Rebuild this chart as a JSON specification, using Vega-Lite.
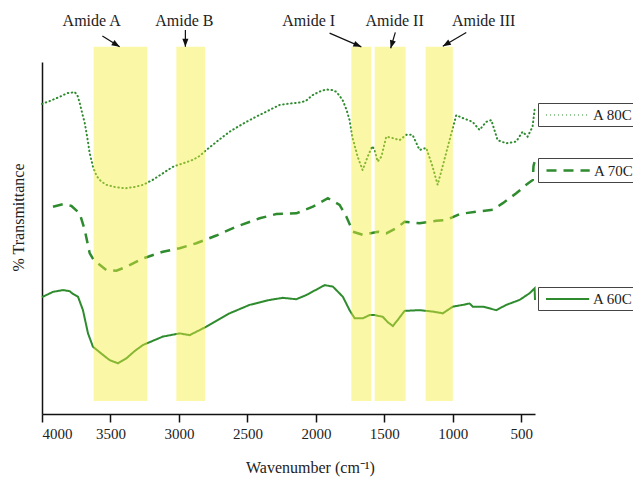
{
  "$schema": "https://vega.github.io/schema/vega-lite/v6.json",
  "width": 493,
  "height": 352,
  "autosize": {"type": "none"},
  "padding": {"left": 42, "top": 62, "right": 98, "bottom": 63},
  "background": "white",
  "config": {
    "view": {"stroke": null},
    "font": "Liberation Serif",
    "text": {"font": "Liberation Serif"},
    "legend": {
      "orient": "none", "title": null, "strokeColor": "#444", "padding": 3,
      "symbolType": "M-0.5,0H4.9", "symbolSize": 256, "symbolStrokeColor": "#2e8b2e",
      "symbolFillColor": "transparent",
      "labelFont": "Liberation Serif", "labelFontSize": 15, "labelColor": "#222", "labelOffset": 34
    }
  },
  "datasets": {
    "s80": [
      {"wn": 4000, "t": 88.1}, {"wn": 3944, "t": 88.9}, {"wn": 3871, "t": 90.1}, {"wn": 3845, "t": 90.6},
      {"wn": 3812, "t": 91.2}, {"wn": 3783, "t": 91.3}, {"wn": 3761, "t": 91.5}, {"wn": 3739, "t": 90.3},
      {"wn": 3725, "t": 88.4}, {"wn": 3703, "t": 84.9}, {"wn": 3688, "t": 82.7}, {"wn": 3666, "t": 77.8},
      {"wn": 3652, "t": 74.1}, {"wn": 3628, "t": 70.3}, {"wn": 3601, "t": 67.6}, {"wn": 3571, "t": 66.2},
      {"wn": 3530, "t": 65.1}, {"wn": 3469, "t": 64.5}, {"wn": 3396, "t": 64.1}, {"wn": 3323, "t": 64.5},
      {"wn": 3263, "t": 65.1}, {"wn": 3192, "t": 66.5}, {"wn": 3117, "t": 68.4}, {"wn": 3046, "t": 70.2},
      {"wn": 2971, "t": 71.2}, {"wn": 2898, "t": 72.2}, {"wn": 2849, "t": 73.3}, {"wn": 2800, "t": 75.0},
      {"wn": 2717, "t": 77.6}, {"wn": 2630, "t": 80.2}, {"wn": 2535, "t": 82.4}, {"wn": 2435, "t": 84.5},
      {"wn": 2352, "t": 86.1}, {"wn": 2265, "t": 87.8}, {"wn": 2192, "t": 88.2}, {"wn": 2119, "t": 88.5},
      {"wn": 2075, "t": 88.9}, {"wn": 2024, "t": 90.6}, {"wn": 1973, "t": 91.6}, {"wn": 1924, "t": 92.2},
      {"wn": 1878, "t": 92.0}, {"wn": 1849, "t": 91.5}, {"wn": 1805, "t": 89.2}, {"wn": 1776, "t": 86.4},
      {"wn": 1754, "t": 83.5}, {"wn": 1732, "t": 78.4}, {"wn": 1695, "t": 73.1}, {"wn": 1659, "t": 69.3},
      {"wn": 1622, "t": 73.1}, {"wn": 1588, "t": 76.1}, {"wn": 1571, "t": 75.0}, {"wn": 1549, "t": 71.7},
      {"wn": 1522, "t": 73.1}, {"wn": 1486, "t": 78.8}, {"wn": 1440, "t": 78.4}, {"wn": 1389, "t": 77.8},
      {"wn": 1340, "t": 79.3}, {"wn": 1294, "t": 79.3}, {"wn": 1243, "t": 75.0}, {"wn": 1194, "t": 75.6},
      {"wn": 1148, "t": 70.3}, {"wn": 1111, "t": 65.1}, {"wn": 1075, "t": 70.3}, {"wn": 1024, "t": 77.8},
      {"wn": 975, "t": 84.9}, {"wn": 929, "t": 84.1}, {"wn": 856, "t": 83.0}, {"wn": 805, "t": 80.7},
      {"wn": 756, "t": 83.0}, {"wn": 719, "t": 83.5}, {"wn": 673, "t": 77.8}, {"wn": 610, "t": 76.9},
      {"wn": 537, "t": 77.4}, {"wn": 491, "t": 80.2}, {"wn": 454, "t": 78.8}, {"wn": 418, "t": 81.6},
      {"wn": 403, "t": 86.4}
    ],
    "s70": [
      {"wn": 3920, "t": 58.9}, {"wn": 3847, "t": 59.6}, {"wn": 3785, "t": 59.1}, {"wn": 3725, "t": 57.0},
      {"wn": 3688, "t": 52.3}, {"wn": 3652, "t": 45.7}, {"wn": 3623, "t": 43.8}, {"wn": 3591, "t": 42.8},
      {"wn": 3530, "t": 40.9}, {"wn": 3457, "t": 40.7}, {"wn": 3384, "t": 41.8}, {"wn": 3263, "t": 44.2},
      {"wn": 3117, "t": 46.1}, {"wn": 2995, "t": 47.1}, {"wn": 2873, "t": 48.5}, {"wn": 2727, "t": 50.7},
      {"wn": 2581, "t": 53.2}, {"wn": 2411, "t": 55.6}, {"wn": 2289, "t": 56.8}, {"wn": 2143, "t": 57.0},
      {"wn": 2022, "t": 58.9}, {"wn": 1912, "t": 61.3}, {"wn": 1827, "t": 59.4}, {"wn": 1778, "t": 56.1},
      {"wn": 1730, "t": 51.8}, {"wn": 1657, "t": 50.9}, {"wn": 1547, "t": 51.8}, {"wn": 1486, "t": 51.3},
      {"wn": 1413, "t": 52.8}, {"wn": 1352, "t": 54.6}, {"wn": 1243, "t": 54.2}, {"wn": 1121, "t": 54.9},
      {"wn": 1048, "t": 55.1}, {"wn": 951, "t": 56.8}, {"wn": 829, "t": 57.5}, {"wn": 708, "t": 58.0},
      {"wn": 635, "t": 59.9}, {"wn": 537, "t": 62.7}, {"wn": 464, "t": 65.1}, {"wn": 416, "t": 66.5},
      {"wn": 411, "t": 70.5}, {"wn": 403, "t": 71.6}
    ],
    "s60": [
      {"wn": 4000, "t": 33.2}, {"wn": 3920, "t": 34.7}, {"wn": 3847, "t": 35.2}, {"wn": 3798, "t": 34.9},
      {"wn": 3774, "t": 34.1}, {"wn": 3737, "t": 33.3}, {"wn": 3701, "t": 29.5}, {"wn": 3664, "t": 22.9},
      {"wn": 3628, "t": 19.1}, {"wn": 3555, "t": 16.8}, {"wn": 3506, "t": 15.3}, {"wn": 3445, "t": 14.4},
      {"wn": 3384, "t": 15.8}, {"wn": 3323, "t": 17.9}, {"wn": 3263, "t": 19.6}, {"wn": 3117, "t": 22.0},
      {"wn": 2995, "t": 22.9}, {"wn": 2922, "t": 22.4}, {"wn": 2800, "t": 24.8}, {"wn": 2630, "t": 28.6},
      {"wn": 2484, "t": 31.0}, {"wn": 2338, "t": 32.4}, {"wn": 2241, "t": 33.0}, {"wn": 2143, "t": 32.6},
      {"wn": 2070, "t": 33.8}, {"wn": 1936, "t": 36.6}, {"wn": 1876, "t": 36.2}, {"wn": 1803, "t": 33.3},
      {"wn": 1754, "t": 29.5}, {"wn": 1717, "t": 27.2}, {"wn": 1657, "t": 27.2}, {"wn": 1608, "t": 28.1},
      {"wn": 1571, "t": 28.1}, {"wn": 1511, "t": 27.6}, {"wn": 1476, "t": 26.1}, {"wn": 1438, "t": 25.0},
      {"wn": 1403, "t": 26.7}, {"wn": 1352, "t": 29.3}, {"wn": 1243, "t": 29.5}, {"wn": 1146, "t": 29.1},
      {"wn": 1073, "t": 28.6}, {"wn": 1000, "t": 30.5}, {"wn": 927, "t": 31.0}, {"wn": 878, "t": 31.4},
      {"wn": 854, "t": 30.5}, {"wn": 781, "t": 30.5}, {"wn": 683, "t": 29.5}, {"wn": 610, "t": 31.0},
      {"wn": 513, "t": 32.4}, {"wn": 440, "t": 34.3}, {"wn": 403, "t": 35.7}, {"wn": 400, "t": 32.4}
    ],
    "bands": [
      {"name": "Amide A", "from": 3623, "to": 3231},
      {"name": "Amide B", "from": 3019, "to": 2810},
      {"name": "Amide I", "from": 1741, "to": 1595},
      {"name": "Amide II", "from": 1571, "to": 1345},
      {"name": "Amide III", "from": 1199, "to": 1000}
    ],
    "labels": [
      {"name": "Amide A", "wn": 3637, "t": 111.6},
      {"name": "Amide B", "wn": 2960, "t": 111.6},
      {"name": "Amide I", "wn": 2053, "t": 111.6},
      {"name": "Amide II", "wn": 1425, "t": 111.6},
      {"name": "Amide III", "wn": 775, "t": 111.6}
    ],
    "arrows": [
      {"name": "Amide A", "wn1": 3559, "t1": 107.4, "wn2": 3433, "t2": 104.3},
      {"name": "Amide B", "wn1": 2953, "t1": 109.1, "wn2": 2953, "t2": 104.3},
      {"name": "Amide I", "wn1": 1900, "t1": 108.2, "wn2": 1668, "t2": 104.3},
      {"name": "Amide II", "wn1": 1420, "t1": 108.4, "wn2": 1454, "t2": 103.9},
      {"name": "Amide III", "wn1": 902, "t1": 108.4, "wn2": 1073, "t2": 104.5}
    ]
  },
  "layer": [
    {
      "data": {"name": "s80"},
      "transform": [{"calculate": "'A 80C'", "as": "sample"}],
      "mark": {"type": "line", "color": "#2e8b2e", "strokeWidth": 2, "strokeCap": "round", "clip": false},
      "encoding": {
        "x": {"field": "wn", "type": "quantitative",
          "scale": {"domain": [400, 4000], "reverse": true, "nice": false, "zero": false},
          "axis": {
            "values": [4000, 3750, 3500, 3250, 3000, 2750, 2500, 2250, 2000, 1750, 1500, 1250, 1000, 750, 500],
            "format": "d",
            "labelExpr": "datum.value % 500 === 0 ? datum.label : ''",
            "tickSize": {"condition": {"test": "datum.value % 500 === 0", "value": 8}, "value": 4},
            "tickColor": "#111", "tickWidth": 1.5,
            "domainColor": "#111", "domainWidth": 1.5,
            "grid": false,
            "labelFont": "Liberation Serif", "labelFontSize": 15, "labelColor": "#222", "labelPadding": 4,
            "title": "Wavenumber (cm⁻¹)",
            "titleFont": "Liberation Serif", "titleFontSize": 16, "titleFontWeight": "normal", "titleColor": "#222",
            "titleX": 268, "titleY": 58, "titleAlign": "center", "titleBaseline": "alphabetic"
          }},
        "y": {"field": "t", "type": "quantitative",
          "scale": {"domain": [0, 100], "nice": false, "zero": false},
          "axis": {
            "ticks": false, "labels": false, "grid": false,
            "domainColor": "#111", "domainWidth": 1.5,
            "title": "% Transmittance",
            "titleFont": "Liberation Serif", "titleFontSize": 16, "titleFontWeight": "normal", "titleColor": "#222",
            "titleX": -24, "titleY": 155, "titleAlign": "center", "titleBaseline": "middle", "titleAngle": -90
          }},
        "strokeDash": {"field": "sample", "type": "nominal",
          "scale": {"domain": ["A 80C"], "range": [[0.5, 3.5]]},
          "legend": {"legendX": 496, "legendY": 41, "symbolStrokeWidth": 2}}
      }
    },
    {
      "data": {"name": "s70"},
      "transform": [{"calculate": "'A 70C'", "as": "sample"}],
      "mark": {"type": "line", "color": "#2e8b2e", "strokeWidth": 2.5, "clip": false},
      "encoding": {
        "x": {"field": "wn", "type": "quantitative"},
        "y": {"field": "t", "type": "quantitative"},
        "strokeDash": {"field": "sample", "type": "nominal",
          "scale": {"domain": ["A 70C"], "range": [[10, 7]]},
          "legend": {"legendX": 496, "legendY": 96, "symbolStrokeWidth": 2.5}}
      }
    },
    {
      "data": {"name": "s60"},
      "transform": [{"calculate": "'A 60C'", "as": "sample"}],
      "mark": {"type": "line", "color": "#2e8b2e", "strokeWidth": 2, "clip": false},
      "encoding": {
        "x": {"field": "wn", "type": "quantitative"},
        "y": {"field": "t", "type": "quantitative"},
        "strokeDash": {"field": "sample", "type": "nominal",
          "scale": {"domain": ["A 60C"], "range": [[1, 0]]},
          "legend": {"legendX": 496, "legendY": 225, "symbolStrokeWidth": 2}}
      }
    },
    {
      "data": {"name": "bands"},
      "mark": {"type": "rect", "fill": "#f4ee3a", "opacity": 0.45},
      "encoding": {
        "x": {"field": "from", "type": "quantitative"},
        "x2": {"field": "to"},
        "y": {"datum": 3.7, "type": "quantitative"},
        "y2": {"datum": 104.3}
      }
    },
    {
      "data": {"name": "arrows"},
      "mark": {"type": "rule", "color": "#111", "strokeWidth": 1.2},
      "encoding": {
        "x": {"field": "wn1", "type": "quantitative"},
        "y": {"field": "t1", "type": "quantitative"},
        "x2": {"field": "wn2"},
        "y2": {"field": "t2"}
      }
    },
    {
      "data": {"name": "arrows"},
      "transform": [
        {"calculate": "atan2((datum.wn1 - datum.wn2) * 0.1369, -(datum.t1 - datum.t2) * 3.52) * 180 / PI", "as": "ang"}
      ],
      "mark": {"type": "point", "shape": "M0,0L0.38,1L-0.38,1Z", "filled": true, "color": "#111", "size": 256, "opacity": 1},
      "encoding": {
        "x": {"field": "wn2", "type": "quantitative"},
        "y": {"field": "t2", "type": "quantitative"},
        "angle": {"field": "ang", "type": "quantitative", "scale": null}
      }
    },
    {
      "data": {"name": "labels"},
      "mark": {"type": "text", "font": "Liberation Serif", "fontSize": 16, "color": "#222", "baseline": "middle", "align": "center"},
      "encoding": {
        "x": {"field": "wn", "type": "quantitative"},
        "y": {"field": "t", "type": "quantitative"},
        "text": {"field": "name"}
      }
    }
  ],
  "resolve": {
    "scale": {"strokeDash": "independent"},
    "legend": {"strokeDash": "independent"}
  }
}
